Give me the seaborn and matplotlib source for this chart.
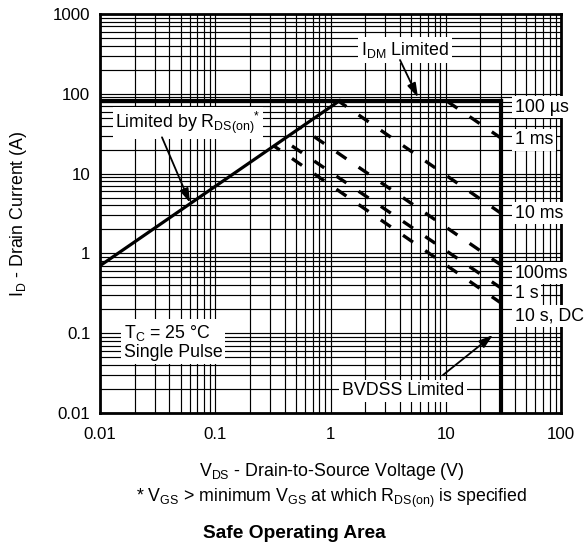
import math
import matplotlib
matplotlib.use("Agg")
import matplotlib.pyplot as plt
import matplotlib.ticker as mticker
import seaborn as sns
import pandas as pd

# ---------------- data ----------------
x_ticks = [0.01, 0.1, 1, 10, 100]
x_tick_labels = ["0.01", "0.1", "1", "10", "100"]
y_ticks = [0.01, 0.1, 1, 10, 100, 1000]
y_tick_labels = ["0.01", "0.1", "1", "10", "100", "1000"]

rds_vds = [0.01, 1.2]          # R_DS(on) limit line
rds_id = [0.7, 82]
idm_vds = [0.01, 30]           # I_DM limit (horizontal)
idm_id = [82, 82]
bv_vds = [30, 30]              # BVDSS limit (vertical)
bv_id = [82, 0.01]

pulse_names = ["1 ms", "10 ms", "100ms", "1 s", "10 s, DC"]
pulse_vds_start = [10.1, 1.16, 0.55, 0.38, 0.32]
pulse_id_start = [82, 82, 38, 27, 22.4]
pulse_vds_end = [30, 30, 30, 30, 30]
pulse_id_end = [28, 3.2, 0.72, 0.37, 0.24]

right_labels = ["100 µs", "1 ms", "10 ms", "100ms", "1 s", "10 s, DC"]
right_label_id = [68, 26.4, 3.2, 0.567, 0.31, 0.164]

# ---------------- style ----------------
sns.set_theme(style="white")
plt.rcParams["font.family"] = ["Liberation Sans", "DejaVu Sans"]
plt.rcParams["mathtext.fontset"] = "custom"
plt.rcParams["mathtext.rm"] = "Liberation Sans"
plt.rcParams["mathtext.it"] = "Liberation Sans:italic"
plt.rcParams["mathtext.bf"] = "Liberation Sans:bold"
plt.rcParams["lines.scale_dashes"] = False
plt.rcParams["text.color"] = "black"
plt.rcParams["axes.labelcolor"] = "black"

DPI = 100
W, H = 588, 550
fig = plt.figure(figsize=(W / DPI, H / DPI), dpi=DPI)
ax_l, ax_r, ax_t, ax_b = 100, 561, 14, 413
ax = fig.add_axes([ax_l / W, 1 - ax_b / H, (ax_r - ax_l) / W, (ax_b - ax_t) / H])

ax.set_xscale("log")
ax.set_yscale("log")
ax.set_xlim(0.01, 100)
ax.set_ylim(0.01, 1000)

fs_tick = 12.2
fs = 12.8

ax.xaxis.set_major_locator(mticker.FixedLocator(x_ticks))
ax.xaxis.set_major_formatter(mticker.FixedFormatter(x_tick_labels))
ax.yaxis.set_major_locator(mticker.FixedLocator(y_ticks))
ax.yaxis.set_major_formatter(mticker.FixedFormatter(y_tick_labels))
ax.xaxis.set_minor_locator(mticker.LogLocator(base=10, subs=range(2, 10), numticks=20))
ax.yaxis.set_minor_locator(mticker.LogLocator(base=10, subs=range(2, 10), numticks=20))
ax.xaxis.set_minor_formatter(mticker.NullFormatter())
ax.yaxis.set_minor_formatter(mticker.NullFormatter())
ax.tick_params(which="both", length=0, labelsize=fs_tick, colors="black")
ax.tick_params(axis="x", pad=10)
ax.tick_params(axis="y", pad=7)
ax.set_axisbelow(True)
ax.grid(which="both", color="black", linewidth=0.85)
for s in ax.spines.values():
    s.set_visible(True)
    s.set_color("black")
    s.set_linewidth(2.0)

# ---------------- boundary lines ----------------
sns.lineplot(data=pd.DataFrame({"V": rds_vds, "I": rds_id}), x="V", y="I",
             ax=ax, color="black", linewidth=2.3, sort=False, estimator=None)
sns.lineplot(data=pd.DataFrame({"V": idm_vds, "I": idm_id}), x="V", y="I",
             ax=ax, color="black", linewidth=3.0, sort=False, estimator=None)
sns.lineplot(data=pd.DataFrame({"V": bv_vds, "I": bv_id}), x="V", y="I",
             ax=ax, color="black", linewidth=3.0, sort=False, estimator=None)
for ln in ax.lines:
    ln.set_solid_capstyle("projecting")

# ---------------- pulse (dashed) lines ----------------
period_px = 22.2        # dash column spacing in x pixels
on_px = 10.0
col0 = 292.0            # first dash column start (pixel x)
for v0, i0, v1, i1 in zip(pulse_vds_start, pulse_id_start, pulse_vds_end, pulse_id_end):
    sns.lineplot(data=pd.DataFrame({"V": [v0, v1], "I": [i0, i1]}), x="V", y="I",
                 ax=ax, color="black", linewidth=2.4, sort=False, estimator=None)
    ln = ax.lines[-1]
    p0 = ax.transData.transform((v0, i0))
    p1 = ax.transData.transform((v1, i1))
    dx, dy = p1[0] - p0[0], p1[1] - p0[1]
    L = math.hypot(dx, dy) / dx
    xs = col0 + math.ceil((p0[0] - col0) / period_px) * period_px
    d = (xs - p0[0]) * L * 72 / DPI
    T = period_px * L * 72 / DPI
    on = on_px * L * 72 / DPI
    off = T - on
    ln.set_linestyle((T - d % T, (on, off)))
    ln.set_dash_capstyle("butt")

ax.set_xlabel("")
ax.set_ylabel("")

# ---------------- annotations ----------------
box = dict(boxstyle="square,pad=0.15", fc="white", ec="none")
arrow = dict(arrowstyle="-|>,head_length=0.7,head_width=0.22", color="black",
             lw=1.3, shrinkA=0, shrinkB=0)

ax.text(0.058, 43, "Limited by $\\mathregular{R_{DS(on)}{}^{*}}$", fontsize=fs,
        ha="center", va="center", bbox=box, zorder=6)
ax.annotate("", xy=(0.0604, 4.3), xytext=(0.0345, 28.5), arrowprops=arrow, zorder=6)

ax.text(4.43, 354, "$\\mathregular{I_{DM}}$ Limited", fontsize=fs,
        ha="center", va="center", bbox=box, zorder=6)
ax.annotate("", xy=(5.74, 90), xytext=(4.01, 265), arrowprops=arrow, zorder=6)

ax.text(0.0161, 0.077, "$\\mathregular{T_C}$ = 25 °C\nSingle Pulse", fontsize=fs,
        ha="left", va="center", linespacing=1.1, bbox=box, zorder=6)

ax.text(4.26, 0.0189, "BVDSS Limited", fontsize=fs, ha="center", va="center",
        bbox=box, zorder=6)
ax.annotate("", xy=(25.7, 0.095), xytext=(9.46, 0.0299), arrowprops=arrow, zorder=6)

for lab, yv in zip(right_labels, right_label_id):
    ax.text(39.9, yv, lab, fontsize=fs, ha="left", va="center", bbox=box,
            zorder=6, clip_on=False)

# ---------------- axis titles ----------------
fig.text(19 / W, 1 - 213.5 / H, "$\\mathregular{I_D}$ - Drain Current (A)",
         rotation=90, ha="center", va="center", fontsize=fs)
fig.text(332 / W, 1 - 472 / H, "$\\mathregular{V_{DS}}$ - Drain-to-Source Voltage (V)",
         ha="center", va="center", fontsize=fs)
fig.text(332 / W, 1 - 498 / H,
         "* $\\mathregular{V_{GS}}$ > minimum $\\mathregular{V_{GS}}$ at which "
         "$\\mathregular{R_{DS(on)}}$ is specified",
         ha="center", va="center", fontsize=fs)
fig.text(294 / W, 1 - 533 / H, "Safe Operating Area", ha="center", va="center",
         fontsize=13.8, fontweight="bold")

fig.savefig("out.png", dpi=DPI)
